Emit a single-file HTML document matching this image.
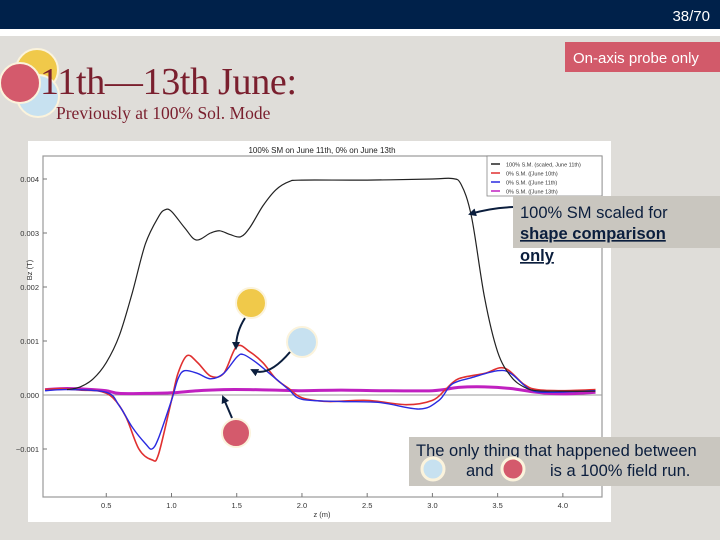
<!DOCTYPE html>
<html><head><meta charset="utf-8"><style>
html,body{margin:0;padding:0;width:720px;height:540px;overflow:hidden;background:#dfddd9;font-family:"Liberation Sans",sans-serif}
svg{display:block}
</style></head><body>
<svg width="720" height="540" xmlns="http://www.w3.org/2000/svg" id="root">
<rect x="0" y="0" width="720" height="29" fill="#00214a"/>
<rect x="0" y="29" width="720" height="7" fill="#ffffff"/>
<text x="710" y="21" font-size="15" fill="#fff" text-anchor="end">38/70</text>
<g>
<circle cx="37" cy="70" r="21" fill="#f0c94a" stroke="#fbf3dc" stroke-width="2"/>
<circle cx="38" cy="96" r="21" fill="#c7e1f0" stroke="#fbf3dc" stroke-width="2"/>
</g>
<text x="40" y="94" font-family="Liberation Serif,serif" font-size="38" fill="#7a1f2e" textLength="257">11th—13th June:</text>
<circle cx="20" cy="83" r="20" fill="#d45a6c" stroke="#fbf3dc" stroke-width="2"/>
<text x="56" y="119" font-family="Liberation Serif,serif" font-size="17.5" fill="#7a1f2e">Previously at 100% Sol. Mode</text>
<g>
<rect x="565" y="42" width="160" height="30" fill="#d25a6a"/>
<text x="573" y="63" font-size="15" fill="#fff">On-axis probe only</text>
</g>
<rect x="28" y="141" width="583" height="381" fill="#fff"/>
<g id="chart"></g>
<g>
<rect x="513" y="196" width="210" height="52" fill="#c9c6bf"/>
<text x="520" y="218" font-size="16.5" fill="#0b1e3d">100% SM scaled for</text>
<text x="520" y="239" font-size="16.5" font-weight="bold" fill="#0b1e3d" text-decoration="underline">shape comparison</text>
<text x="520" y="261" font-size="16.5" font-weight="bold" fill="#0b1e3d" text-decoration="underline">only</text>
</g>
<g>
<rect x="409" y="437" width="315" height="49" fill="#c9c6bf"/>
<text x="416" y="456" font-size="16.5" fill="#0b1e3d">The only thing that happened between</text>
<text x="466" y="476" font-size="16.5" fill="#0b1e3d">and</text>
<text x="550" y="476" font-size="16.5" fill="#0b1e3d">is a 100% field run.</text>
<circle cx="433" cy="469" r="11" fill="#c7e1f0" stroke="#fbf3dc" stroke-width="3"/>
<circle cx="513" cy="469" r="11" fill="#d45a6c" stroke="#fbf3dc" stroke-width="3"/>
</g>
<g>
<circle cx="251" cy="303" r="15" fill="#f0c94a" stroke="#fbf3dc" stroke-width="2"/>
<circle cx="302" cy="342" r="15" fill="#c7e1f0" stroke="#fbf3dc" stroke-width="2"/>
<circle cx="236" cy="433" r="14" fill="#d45a6c" stroke="#fbf3dc" stroke-width="2"/>
</g>
<defs><marker id="ah" markerUnits="userSpaceOnUse" markerWidth="8" markerHeight="8" refX="6" refY="4" orient="auto"><path d="M0,0 L8,4 L0,8 Z" fill="#0b1e3d"/></marker></defs>
<g stroke="#0b1e3d" stroke-width="2" fill="none">
<path d="M245,318 Q236,332 236,348" marker-end="url(#ah)"/>
<path d="M290,352 Q268,378 252,370" marker-end="url(#ah)"/>
<path d="M232,418 L223,397" marker-end="url(#ah)"/>
<path d="M513,207 Q490,208 470,214" marker-end="url(#ah)"/>
</g>
</svg>
<script>
const blackZ=[0.2,0.3,0.4,0.5,0.6,0.7,0.8,0.9,0.95,1.0,1.1,1.19,1.3,1.37,1.45,1.53,1.6,1.7,1.8,1.9,2.0,2.5,3.0,3.15,3.22,3.3,3.4,3.5,3.6,3.7,3.8,4.0,4.25];
const blackB=[0.0001,0.00015,0.0003,0.0006,0.0011,0.0019,0.0028,0.0033,0.00343,0.0034,0.0031,0.00287,0.003,0.00304,0.00297,0.00293,0.0031,0.0035,0.0038,0.00395,0.00398,0.00398,0.004,0.00401,0.0039,0.0033,0.0018,0.0008,0.00035,0.00015,0.00008,0.00007,0.00007];
const redZ=[0.03,0.15,0.3,0.45,0.55,0.65,0.75,0.85,0.9,1.0,1.05,1.12,1.2,1.3,1.4,1.5,1.6,1.7,1.8,1.9,2.0,2.2,2.5,2.8,3.0,3.1,3.2,3.4,3.55,3.7,3.8,4.0,4.25];
const redB=[0.0001,0.00012,0.00009,0.00007,-0.00005,-0.0004,-0.001,-0.0012,-0.0011,-0.0001,0.0004,0.00073,0.0006,0.00035,0.0004,0.0009,0.0008,0.0006,0.0003,0.00012,-0.00005,-0.00012,-0.0001,-0.00018,-0.0001,0.0001,0.0003,0.0004,0.0005,0.0002,0.0001,0.00008,0.0001];
const blueZ=[0.03,0.2,0.5,0.6,0.7,0.8,0.85,0.9,1.0,1.05,1.1,1.2,1.3,1.4,1.5,1.55,1.65,1.8,1.9,2.0,2.3,2.6,2.9,3.05,3.15,3.3,3.5,3.6,3.75,3.9,4.25];
const blueB=[0.00008,0.0001,0.00005,-0.0002,-0.0006,-0.0009,-0.001,-0.0008,-0.0001,0.0003,0.00045,0.0004,0.0003,0.0004,0.0007,0.00075,0.0006,0.0003,0.0001,-0.00008,-0.00012,-0.00014,-0.00026,-0.0001,0.0002,0.00032,0.00045,0.0004,0.0001,0.00005,0.00008];
const magZ=[0.03,0.2,0.4,0.5,0.6,0.8,1.0,1.2,1.4,1.6,1.8,2.0,2.3,2.6,3.0,3.2,3.4,3.6,3.8,4.0,4.25];
const magB=[0.0001,0.00012,0.0001,0.00008,0.00003,0.00003,0.00004,0.00008,0.0001,0.0001,0.00009,0.00008,0.00009,0.00008,0.00008,0.00014,0.00015,0.00012,0.00005,0.00002,0.00005];
const yTicks=[0.004,0.003,0.002,0.001,0.0,-0.001];
const yTickLabels=["0.004","0.003","0.002","0.001","0.000","\u22120.001"];
const xTicks=[0.5,1.0,1.5,2.0,2.5,3.0,3.5,4.0];
const legendLabels=["100% S.M. (scaled, June 11th)","0% S.M. ([June 10th)","0% S.M. ([June 11th)","0% S.M. ([June 13th)"];
const legendColors=["#222","#e03030","#2a2ae0","#c020c0"];

const NS="http://www.w3.org/2000/svg";
const L=43,R=602,T=156,B=497;
const X=z=>L+(z-0.015)/(4.3-0.015)*(R-L);
const Y=v=>395-v*54000;
const g=document.getElementById('chart');
function mk(tag,attrs,parent){const e=document.createElementNS(NS,tag);for(const k in attrs)e.setAttribute(k,attrs[k]);(parent||g).appendChild(e);return e;}
let t=mk('text',{x:322,y:153,'font-size':8,'text-anchor':'middle',fill:'#222'});t.textContent="100% SM on June 11th, 0% on June 13th";


let f=mk('rect',{x:L,y:T,width:R-L,height:B-T,fill:'none',stroke:'#999','stroke-width':1.2});


yTicks.forEach((v,i)=>{
 const tx=mk('text',{x:L-4,y:Y(v)+3,'font-size':7.5,'text-anchor':'end',fill:'#333'});tx.textContent=yTickLabels[i];
 
 
 mk('line',{x1:L,x2:L+4,y1:Y(v),y2:Y(v),stroke:'#777'});
});
mk('line',{x1:L,x2:R,y1:Y(0),y2:Y(0),stroke:'#999','stroke-width':1});
xTicks.forEach(z=>{
 const tx=mk('text',{x:X(z),y:B+11,'font-size':7.5,'text-anchor':'middle',fill:'#333'});tx.textContent=z.toFixed(1);
 
 
 mk('line',{x1:X(z),x2:X(z),y1:B,y2:B-4,stroke:'#777'});
});
let xl=mk('text',{x:322,y:B+20,'font-size':7.5,'text-anchor':'middle',fill:'#333'});xl.textContent="z (m)";


let yl=mk('text',{x:32,y:270,'font-size':7.5,'text-anchor':'middle',fill:'#333',transform:'rotate(-90 32 270)'});yl.textContent="Bz (T)";


function smooth(pts){
 let d='M'+pts[0][0].toFixed(1)+','+pts[0][1].toFixed(1);
 for(let i=0;i<pts.length-1;i++){
  const p0=pts[Math.max(0,i-1)],p1=pts[i],p2=pts[i+1],p3=pts[Math.min(pts.length-1,i+2)];
  const c1=[p1[0]+(p2[0]-p0[0])/6,p1[1]+(p2[1]-p0[1])/6],c2=[p2[0]-(p3[0]-p1[0])/6,p2[1]-(p3[1]-p1[1])/6];
  d+=' C'+c1.map(n=>n.toFixed(1)).join(',')+' '+c2.map(n=>n.toFixed(1)).join(',')+' '+p2[0].toFixed(1)+','+p2[1].toFixed(1);
 }
 return d;
}
function line(zs,bs,col,w,name){
 const p=mk('path',{d:smooth(zs.map((z,i)=>[X(z),Y(bs[i])])),fill:'none',stroke:col,'stroke-width':w,'stroke-linejoin':'round'});
 
 
}
line(magZ,magB,'#c020c0',3,'series-june13');
line(redZ,redB,'#e03030',1.6,'series-june10');
line(blueZ,blueB,'#2a2ae0',1.4,'series-june11');
line(blackZ,blackB,'#222',1.2,'series-100sm');
const lg=mk('g',{});


mk('rect',{x:487,y:156,width:115,height:40,fill:'#fff',stroke:'#888','stroke-width':0.8},lg);
legendLabels.forEach((s,i)=>{
 const yy=164+i*9;
 mk('line',{x1:491,x2:500,y1:yy,y2:yy,stroke:legendColors[i],'stroke-width':1.5},lg);
 const tx=mk('text',{x:506,y:yy+2.5,'font-size':5.5,fill:'#333'},lg);tx.textContent=s;
 
 
});
</script>
</body></html>
